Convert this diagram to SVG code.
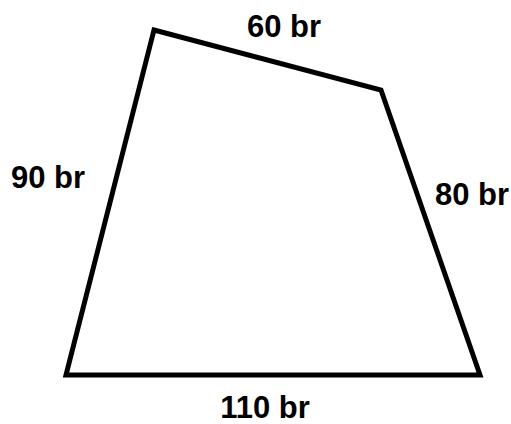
<svg xmlns="http://www.w3.org/2000/svg" width="511" height="424" viewBox="0 0 511 424">
<style>
.lbl{font-family:"Liberation Sans",Arial,Helvetica,sans-serif;font-weight:bold;font-size:31px;fill:#000}
.edge{fill:none;stroke:#000;stroke-width:5;stroke-linejoin:miter}
</style>
<rect width="511" height="424" fill="#fff"/>
<g id="shape">
<polygon class="edge" points="154,30 381,90 480,375 66,375"/>
</g>
<g id="labels">
<text class="lbl" x="284" y="37" text-anchor="middle">60 br</text>
<text class="lbl" x="48" y="188" text-anchor="middle">90 br</text>
<text class="lbl" x="472" y="205" text-anchor="middle">80 br</text>
<text class="lbl" x="265" y="418" text-anchor="middle">110 br</text>
</g>
</svg>
